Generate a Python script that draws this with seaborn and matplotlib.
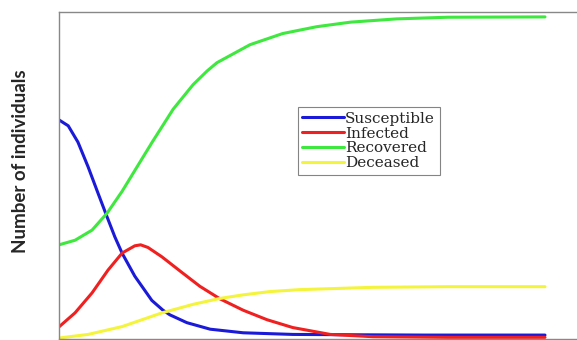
import pandas as pd
import numpy as np
import matplotlib.pyplot as plt
import seaborn as sns

# values (individuals, N ~ 1000), each series with its own time samples
t_s = [0, 1.9, 3.9, 6.0, 8.0, 9.9, 11.5, 13.0, 15.6, 19.1, 21.4, 22.8, 26.3, 31.1, 37.9, 48.1, 60, 75, 100]
susceptible = [670, 652, 602, 526, 447, 373, 312, 262, 192, 118, 88, 74, 50, 30, 19, 14, 13, 12, 12]

t_i = [0, 3.3, 6.8, 10.1, 13.0, 15.6, 16.8, 18.3, 21.2, 24.9, 29.0, 33.1, 37.9, 42.8, 48.1, 55.8, 64.6, 80, 100]
infected = [37, 80, 141, 211, 263, 285, 288, 280, 251, 208, 161, 123, 88, 59, 35, 14, 7, 5, 5]

t_r = [0, 3.3, 6.8, 9.9, 13.0, 16.0, 19.3, 23.5, 27.6, 30.5, 32.5, 39.3, 46, 53, 60, 69.5, 80, 100]
recovered = [288, 302, 333, 385, 452, 525, 605, 703, 778, 820, 845, 900, 934, 955, 969, 979, 984, 985]

t_d = [0, 6.0, 13.0, 21.2, 27.6, 33.1, 37.9, 43.4, 49.6, 64.6, 80, 100]
deceased = [3, 14, 38, 80, 106, 124, 135, 145, 151, 158, 160, 160]

labels = ['Susceptible', 'Infected', 'Recovered', 'Deceased']
colors = ['#1a1ad8', '#f02020', '#3ee83e', '#f4f43c']

df = pd.concat([
    pd.DataFrame({'t': t_s, 'n': susceptible, 'group': 'Susceptible'}),
    pd.DataFrame({'t': t_i, 'n': infected, 'group': 'Infected'}),
    pd.DataFrame({'t': t_r, 'n': recovered, 'group': 'Recovered'}),
    pd.DataFrame({'t': t_d, 'n': deceased, 'group': 'Deceased'}),
])

sns.set_style("white")
plt.rcParams['font.family'] = ['DejaVu Serif']

fig = plt.figure(figsize=(5.77, 3.40), dpi=100)
ax = fig.add_axes([59/577, 1/340, 518/577, 327/340])

sns.lineplot(data=df, x='t', y='n', hue='group', hue_order=labels,
             palette=colors, linewidth=2.2, ax=ax)

ax.set_xlim(0, 518/4.86)
ax.set_ylim(0, 1000)
ax.set_xticks([])
ax.set_yticks([])
ax.set_xlabel('')
ax.set_ylabel('Number of individuals', fontsize=13.5, fontweight='bold',
              family=['Lato', 'DejaVu Sans'])
ax.yaxis.set_label_coords(-0.058, 0.544)
for s in ['top', 'left', 'bottom']:
    ax.spines[s].set_color('#888888')
    ax.spines[s].set_linewidth(1.0)
ax.spines['right'].set_visible(False)

leg = ax.legend(loc='upper left', bbox_to_anchor=(0.461, 0.709), borderaxespad=0,
                fontsize=11, frameon=True, fancybox=False, handlelength=2.7,
                handletextpad=0.1, labelspacing=0.05, borderpad=0.3)
leg.get_frame().set_edgecolor('#666666')
leg.get_frame().set_linewidth(0.8)

plt.savefig('out.png', dpi=100)
